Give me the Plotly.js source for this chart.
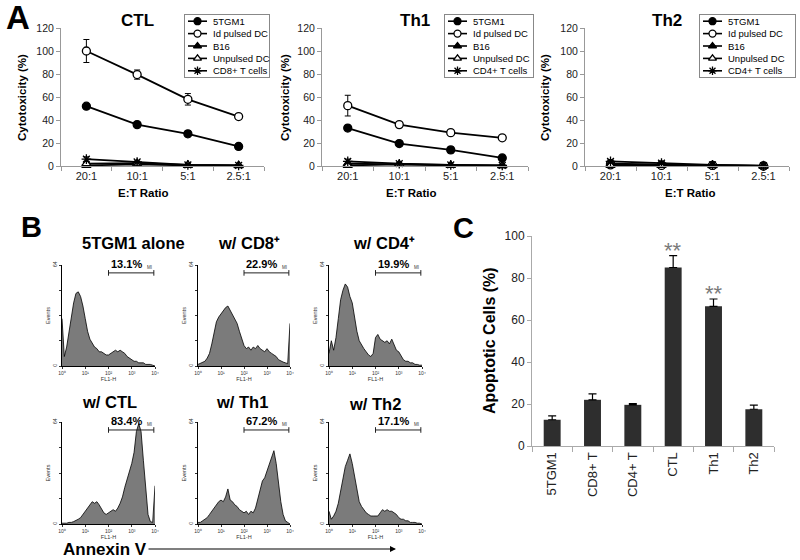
<!DOCTYPE html>
<html>
<head>
<meta charset="utf-8">
<script src="https://cdn.plot.ly/plotly-3.0.1.min.js"></script>
<style>
  html, body { margin: 0; padding: 0; background: #fff; }
  #chart { width: 800px; height: 560px; }
</style>
</head>
<body>
<div id="chart"></div>
<script>
// ---------- Panel A: cytotoxicity vs E:T ratio ----------
const ratios = ['20:1', '10:1', '5:1', '2.5:1'];
const legendCTL = ['5TGM1', 'Id pulsed DC', 'B16', 'Unpulsed DC', 'CD8+ T cells'];
const legendTh = ['5TGM1', 'Id pulsed DC', 'B16', 'Unpulsed DC', 'CD4+ T cells'];

const ctlTumor = [52, 36, 28, 17];
const ctlTumorErr = [1.5, 1.5, 2.5, 2];
const ctlIdDC = [100, 79.5, 58, 43];
const ctlIdDCErr = [10, 4, 5, 1.5];
const ctlB16 = [0.5, 1.5, 0.5, 0.3];
const ctlB16Err = [0.5, 0.5, 0.3, 0.2];
const ctlUnpulsed = [2, 2.5, 1, 0.5];
const ctlUnpulsedErr = [1, 0.5, 0.3, 0.2];
const ctlTcells = [6, 3.5, 1, 0.5];
const ctlTcellsErr = [2, 1, 0.5, 0.3];

const th1Tumor = [33, 19.5, 14, 7];
const th1TumorErr = [1.5, 1.5, 2.5, 2.5];
const th1IdDC = [52.5, 36, 29, 24.5];
const th1IdDCErr = [9, 1.5, 1.5, 1];
const th1B16 = [2, 1.5, 0.5, 0.3];
const th1B16Err = [0.5, 0.5, 0.3, 0.2];
const th1Unpulsed = [0.5, 1.5, 0.5, 0.3];
const th1UnpulsedErr = [0.5, 0.5, 0.3, 0.2];
const th1Tcells = [4, 2, 1, 0.5];
const th1TcellsErr = [2, 1, 0.3, 0.3];

const th2Tumor = [2, 1, 0.5, 0];
const th2TumorErr = [0.5, 0.5, 0.2, 0.2];
const th2IdDC = [1, 0.5, 0.5, 0];
const th2IdDCErr = [0.5, 0.3, 0.2, 0.2];
const th2B16 = [1.5, 1, 0.5, 0];
const th2B16Err = [0.5, 0.3, 0.2, 0.2];
const th2Unpulsed = [0.5, 0.5, 0.3, 0];
const th2UnpulsedErr = [0.3, 0.3, 0.2, 0.2];
const th2Tcells = [4, 2.5, 1, 0.3];
const th2TcellsErr = [1.5, 1, 0.3, 0.2];

// ---------- Panel B: Annexin V histograms (FL1-H, log decades 0..4) ----------
const channels = [0, 0.1, 0.2, 0.3, 0.4, 0.5, 0.6, 0.7, 0.8, 0.9, 1, 1.1, 1.2, 1.3, 1.4, 1.5, 1.6, 1.7, 1.8, 1.9,
  2, 2.1, 2.2, 2.3, 2.4, 2.5, 2.6, 2.7, 2.8, 2.9, 3, 3.1, 3.2, 3.3, 3.4, 3.5, 3.6, 3.7, 3.8, 3.9, 4];
const decadeLabels = ['10⁰', '10¹', '10²', '10³', '10⁴'];
const histAlone = [30, 6, 12, 22, 32, 40, 46, 47, 44, 38, 30, 22, 17, 14, 12, 11, 9, 9, 8, 7,
  7, 8, 9, 10, 9, 10, 9, 8, 6, 5, 4, 3, 3, 2, 2, 2, 1, 1, 1, 0.5, 0];
const histCD8 = [1, 1.5, 2, 3, 5, 8, 14, 22, 28, 31, 33, 35, 37, 38, 35, 33, 30, 27, 22, 17,
  13, 11, 12, 10, 12, 11, 13, 11, 10, 9, 11, 9, 8, 7, 6, 4, 3, 2.5, 2, 1.5, 27];
const histCD4 = [8, 16, 10, 18, 30, 42, 48, 52, 50, 44, 40, 30, 22, 16, 13, 11, 9, 7, 6, 8,
  18, 20, 17, 16, 15, 16, 14, 17, 13, 10, 9, 6, 4, 3, 3, 2, 2, 1, 1, 0.5, 0.5];
const histCTL = [0.5, 0.5, 0.5, 1, 1, 1.5, 2, 3, 4, 6, 8, 10, 12, 14, 13, 14, 12, 9, 7, 6,
  7, 8, 9, 8, 10, 13, 17, 23, 28, 32, 38, 45, 58, 63, 58, 40, 20, 6, 1.5, 1, 24];
const histTh1 = [1, 1, 2, 3, 4, 6, 8, 10, 12, 14, 15, 14, 17, 22, 15, 14, 12, 11, 9, 8,
  7, 8, 6, 8, 7, 10, 16, 22, 27, 29, 33, 38, 42, 46, 38, 25, 14, 6, 2, 1, 0];
const histTh2 = [8, 3, 5, 8, 13, 20, 28, 36, 40, 44, 38, 30, 20, 14, 11, 9, 7, 6, 5, 5,
  5, 5, 7, 9, 8, 9, 8, 8, 7, 6, 4, 3, 3, 2, 2, 1, 1, 1, 0.5, 0.5, 0];
const histTitles = ['5TGM1 alone', 'w/ CD8⁺', 'w/ CD4⁺', 'w/ CTL', 'w/ Th1', 'w/ Th2'];
const gatePercent = ['13.1%', '22.9%', '19.9%', '83.4%', '67.2%', '17.1%'];
const gateRange = [2.0, 3.95];
const gateLevel = 59;

// ---------- Panel C: apoptotic cells ----------
const apoCats = ['5TGM1', 'CD8+ T', 'CD4+ T', 'CTL', 'Th1', 'Th2'];
const apoMean = [12.5, 22, 19.6, 85, 66.5, 17.5];
const apoErr = [1.8, 2.8, 0.6, 5.7, 3.5, 2];
const apoStars = ['', '', '', '**', '**', ''];

// ---------- helpers ----------
const W = 800, H = 560;
const px = x => x / W;
const py = y => 1 - y / H;
const FONT = 'Liberation Sans, Arial, sans-serif';
const aid = n => (n === 1 ? '' : String(n));

const markerStyles = [
  { symbol: 'circle', color: '#000' },
  { symbol: 'circle', color: '#fff' },
  { symbol: 'triangle-up', color: '#000' },
  { symbol: 'triangle-up', color: '#fff' },
  { symbol: 'asterisk-open', color: '#000' }
];
function markerFor(i, size) {
  const s = markerStyles[i];
  return { symbol: s.symbol, size: size, color: s.color, line: { color: '#000', width: 1.3 } };
}

const traces = [];
const annotations = [];
const layout = {
  width: W, height: H, autosize: false,
  margin: { l: 0, r: 0, t: 0, b: 0 },
  paper_bgcolor: '#fff', plot_bgcolor: 'rgba(0,0,0,0)',
  font: { family: FONT, color: '#111' },
  showlegend: false,
  bargap: 0.58
};

function label(text, x, y, size, opts) {
  annotations.push(Object.assign({
    text: text, xref: 'paper', yref: 'paper', x: px(x), y: py(y),
    xanchor: 'center', yanchor: 'middle', showarrow: false,
    font: { family: FONT, size: size, color: '#000', weight: 'bold' }
  }, opts || {}));
}

// ---- Panel A ----
const cytoPanels = [
  { ax: 1, title: 'CTL', tx: 137, x0: 61, x1: 264, ytx: 22, xtx: 143, leg: [185, 269], names: legendCTL,
    series: [[ctlTumor, ctlTumorErr], [ctlIdDC, ctlIdDCErr], [ctlB16, ctlB16Err], [ctlUnpulsed, ctlUnpulsedErr], [ctlTcells, ctlTcellsErr]] },
  { ax: 2, title: 'Th1', tx: 415, x0: 322, x1: 528, ytx: 285, xtx: 411, leg: [445, 533], names: legendTh,
    series: [[th1Tumor, th1TumorErr], [th1IdDC, th1IdDCErr], [th1B16, th1B16Err], [th1Unpulsed, th1UnpulsedErr], [th1Tcells, th1TcellsErr]] },
  { ax: 3, title: 'Th2', tx: 667, x0: 585, x1: 789, ytx: 545, xtx: 690, leg: [700, 795], names: legendTh,
    series: [[th2Tumor, th2TumorErr], [th2IdDC, th2IdDCErr], [th2B16, th2B16Err], [th2Unpulsed, th2UnpulsedErr], [th2Tcells, th2TcellsErr]] }
];

cytoPanels.forEach(p => {
  const id = aid(p.ax);
  layout['xaxis' + id] = {
    domain: [px(p.x0), px(p.x1)], anchor: 'y' + id, type: 'category', categoryorder: 'array', categoryarray: ratios,
    range: [-0.5, 3.5], showline: true, linecolor: '#999', ticks: 'outside', tickson: 'boundaries',
    ticklen: 4, tickcolor: '#999', tickfont: { size: 11, color: '#222' }, showgrid: false, zeroline: false, fixedrange: true
  };
  layout['yaxis' + id] = {
    domain: [py(166), py(28)], anchor: 'x' + id, range: [0, 120], dtick: 20,
    showline: true, linecolor: '#999', ticks: 'outside', ticklen: 4, tickcolor: '#999',
    tickfont: { size: 10.5, color: '#222' }, showgrid: false, zeroline: false, fixedrange: true
  };
  p.series.forEach((s, i) => {
    traces.push({
      type: 'scatter', mode: 'lines+markers', x: ratios, y: s[0], xaxis: 'x' + id, yaxis: 'y' + id,
      error_y: { type: 'data', array: s[1], visible: true, color: '#000', thickness: 1, width: 3 },
      line: { color: '#000', width: 1.8 }, marker: markerFor(i, 8),
      cliponaxis: false, hoverinfo: 'skip'
    });
  });
  label(p.title, p.tx, 21, 17);
  label('Cytotoxicity (%)', p.ytx, 98, 11.5, { textangle: -90 });
  label('E:T Ratio', p.xtx, 193, 11.5);

  // legend box as its own small subplot
  const lid = aid(p.ax + 3);
  const lw = p.leg[1] - p.leg[0];
  layout['xaxis' + lid] = {
    domain: [px(p.leg[0]), px(p.leg[1])], anchor: 'y' + lid, range: [0, 1],
    showline: true, mirror: true, linecolor: '#888', linewidth: 1,
    showticklabels: false, showgrid: false, zeroline: false, ticks: '', fixedrange: true
  };
  layout['yaxis' + lid] = {
    domain: [py(77), py(15)], anchor: 'x' + lid, range: [4.5, -0.5],
    showline: true, mirror: true, linecolor: '#888', linewidth: 1,
    showticklabels: false, showgrid: false, zeroline: false, ticks: '', fixedrange: true
  };
  p.names.forEach((name, i) => {
    traces.push({
      type: 'scatter', mode: 'lines', x: [3 / lw, 22 / lw], y: [i, i], xaxis: 'x' + lid, yaxis: 'y' + lid,
      line: { color: '#000', width: 1.6 }, hoverinfo: 'skip'
    });
    traces.push({
      type: 'scatter', mode: 'markers', x: [12.5 / lw], y: [i], xaxis: 'x' + lid, yaxis: 'y' + lid,
      marker: markerFor(i, 7), hoverinfo: 'skip'
    });
    annotations.push({
      text: name, xref: 'x' + lid, yref: 'y' + lid, x: 26 / lw, y: i, xanchor: 'left', yanchor: 'middle',
      showarrow: false, font: { family: FONT, size: 9.5, color: '#000' }
    });
  });
});
label('A', 18, 17, 33);

// ---- Panel B ----
const histData = [histAlone, histCD8, histCD4, histCTL, histTh1, histTh2];
const histCols = [[62, 155], [198, 290], [329, 422]];
const histRows = [[265, 366], [422, 524]];
const histTitlePos = [[133, 243], [249, 243], [384, 243], [109, 402], [242, 402], [375, 404]];

histData.forEach((counts, k) => {
  const id = aid(7 + k);
  const col = histCols[k % 3], row = histRows[Math.floor(k / 3)];
  layout['xaxis' + id] = {
    domain: [px(col[0]), px(col[1])], anchor: 'y' + id, range: [0, 4],
    tickvals: [0, 1, 2, 3, 4], ticktext: decadeLabels,
    showline: true, linecolor: '#000', linewidth: 1, ticks: 'outside', ticklen: 2, tickwidth: 0.8, tickcolor: '#000',
    tickfont: { size: 5, color: '#333' }, showgrid: false, zeroline: false, fixedrange: true,
    title: { text: 'FL1-H', font: { size: 5.5, color: '#333' }, standoff: 0 }
  };
  layout['yaxis' + id] = {
    domain: [py(row[1]), py(row[0])], anchor: 'x' + id, range: [0, 64],
    tickvals: [0, 64], tickangle: -90,
    minor: { tickvals: [16, 32, 48], ticks: 'outside', ticklen: 2, tickwidth: 0.8, tickcolor: '#000' },
    showline: true, linecolor: '#000', linewidth: 1, ticks: 'outside', ticklen: 2, tickwidth: 0.8, tickcolor: '#000',
    tickfont: { size: 5, color: '#333' }, showgrid: false, zeroline: false, fixedrange: true,
    title: { text: 'Events', font: { size: 5.5, color: '#333' }, standoff: 1 }
  };
  traces.push({
    type: 'scatter', mode: 'lines', x: channels, y: counts, xaxis: 'x' + id, yaxis: 'y' + id,
    fill: 'tozeroy', fillcolor: '#7b7b7b', line: { color: '#000', width: 0.8 }, hoverinfo: 'skip'
  });
  // M1 gate marker
  traces.push({
    type: 'scatter', mode: 'lines+markers', x: gateRange, y: [gateLevel, gateLevel], xaxis: 'x' + id, yaxis: 'y' + id,
    line: { color: '#222', width: 1 }, marker: { symbol: 'line-ns-open', size: 4, color: '#222', line: { width: 1 } },
    cliponaxis: false, hoverinfo: 'skip'
  });
  annotations.push({
    text: gatePercent[k], xref: 'x' + id, yref: 'y' + id, x: (gateRange[0] + gateRange[1]) / 2, y: gateLevel,
    xanchor: 'center', yanchor: 'bottom', xshift: -5, yshift: 1, showarrow: false,
    font: { family: FONT, size: 11, color: '#000', weight: 'bold' }
  });
  annotations.push({
    text: 'MI', xref: 'x' + id, yref: 'y' + id, x: gateRange[1], y: gateLevel,
    xanchor: 'right', yanchor: 'bottom', yshift: 1, showarrow: false,
    font: { family: FONT, size: 4.5, color: '#333' }
  });
  label(histTitles[k], histTitlePos[k][0], histTitlePos[k][1], 16.5);
});
label('B', 31, 227, 29);
// "Annexin V" with its arrow: text sits at the arrow tail, head points right
annotations.push({
  text: 'Annexin V', xref: 'paper', yref: 'paper', x: px(396), y: py(549), ax: -291, ay: 0,
  showarrow: true, arrowhead: 2, arrowsize: 1, arrowwidth: 1.2, arrowcolor: '#000', standoff: 0,
  font: { family: FONT, size: 17, color: '#000', weight: 'bold' }
});

// ---- Panel C ----
layout.xaxis13 = {
  domain: [px(532), px(774)], anchor: 'y13', type: 'category', categoryorder: 'array', categoryarray: apoCats,
  range: [-0.5, 5.5], showline: true, linecolor: '#aaa', ticks: 'outside', tickson: 'boundaries',
  ticklen: 5, tickcolor: '#aaa', tickangle: -90, tickfont: { size: 13, color: '#222' },
  showgrid: false, zeroline: false, fixedrange: true
};
layout.yaxis13 = {
  domain: [py(446), py(236)], anchor: 'x13', range: [0, 100], dtick: 20,
  showline: true, linecolor: '#aaa', ticks: 'outside', ticklen: 4, tickcolor: '#aaa',
  tickfont: { size: 12, color: '#222' }, showgrid: false, zeroline: false, fixedrange: true
};
traces.push({
  type: 'bar', x: apoCats, y: apoMean, xaxis: 'x13', yaxis: 'y13',
  marker: { color: '#2e2e2e', line: { width: 0 } },
  error_y: { type: 'data', symmetric: false, array: apoErr, arrayminus: apoErr.map(() => 0), color: '#000', thickness: 1.2, width: 4 },
  hoverinfo: 'skip'
});
apoStars.forEach((s, i) => {
  if (!s) return;
  annotations.push({
    text: s, xref: 'x13', yref: 'y13', x: apoCats[i], y: apoMean[i] + apoErr[i],
    xanchor: 'center', yanchor: 'bottom', yshift: -9, showarrow: false,
    font: { family: FONT, size: 22, color: '#7a7a7a' }
  });
});
label('C', 464, 228, 29);
label('Apoptotic Cells (%)', 490, 341, 16, { textangle: -90 });

layout.annotations = annotations;
Plotly.newPlot('chart', traces, layout, { staticPlot: true, displayModeBar: false });
</script>
</body>
</html>
